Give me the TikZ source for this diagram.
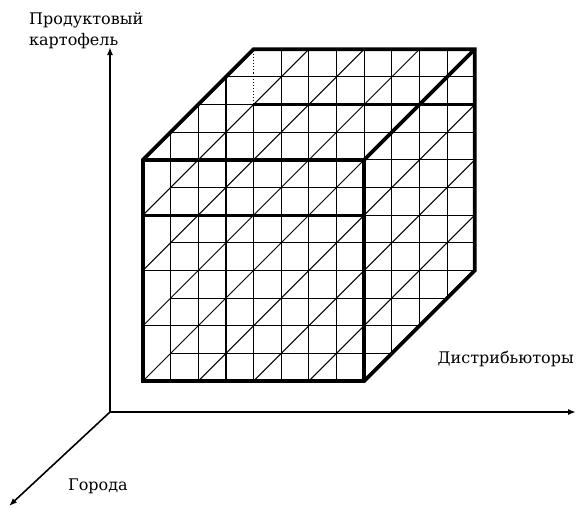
\documentclass[tikz,border=0pt]{standalone}
\usepackage{fontspec}
\setmainfont{DejaVu Serif}
\usetikzlibrary{arrows.meta}
\begin{document}
\begin{tikzpicture}[x=1pt,y=-1pt,
  gridline/.style={line width=1.1pt},
  diagline/.style={line width=1pt},
  edgeline/.style={line width=3.8pt},
  slabline/.style={line width=2.8pt},
  hiddenline/.style={line width=1.1pt, dotted},
  axisline/.style={line width=1.6pt, -{Latex[length=8pt,width=6pt]}},
  lab/.style={font=\fontsize{16}{19}\selectfont, inner sep=0pt}]
\useasboundingbox (0,0) rectangle (576,507);
% axes
\coordinate (O) at (110,412);
\coordinate (Ytip) at (110,47);
\coordinate (Xtip) at (576,412);
\coordinate (Ztip) at (9,506);
\draw[axisline] (O) -- (Ytip);
\draw[axisline] (O) -- (Xtip);
\draw[axisline] (O) -- (Ztip);
% labels
\node[lab, anchor=base west] (l1) at (29,24) {Продуктовый};
\node[lab, anchor=base west] (l2) at (29,45) {картофель};
\node[lab, anchor=base east] (l3) at (574,363) {Дистрибьюторы};
\node[lab, anchor=base west] (l4) at (68,490) {Города};
% cube grid
\begin{scope}[shift={(143pt,-381pt)}, x={(27.65pt,0pt)}, y={(0pt,27.65pt)}]
  \begin{scope}
    \clip (0,0) -- (8,0) -- (12,4) -- (12,12) -- (4,12) -- (0,8) -- cycle;
    \foreach \i in {1,2,3,5,6,7,8,9,10,11}
      \draw[gridline] (\i,0) -- (\i,12);
    \draw[gridline] (4,0) -- (4,10);
    \foreach \j in {2,4,...,10}
      \draw[gridline] (0,\j) -- (12,\j);
    \foreach \j in {1,3,...,11}
      \draw[gridline] (1,\j) -- (12,\j);
    \foreach \c in {-6,-4,...,6}
      \draw[diagline] (\c-2,-2) -- (\c+14,14);
  \end{scope}
  \draw[hiddenline] (4,10) -- (4,12);
  \draw[slabline] (0,6) -- (8,6);
  \draw[slabline] (4,10) -- (12,10);
  \draw[edgeline] (8,8) -- (12,12);
  \draw[edgeline] (0,8) -- (8,8) -- (8,0);
  \draw[edgeline] (0,0) -- (8,0) -- (12,4) -- (12,12) -- (4,12) -- (0,8) -- cycle;
\end{scope}
\end{tikzpicture}
\end{document}
